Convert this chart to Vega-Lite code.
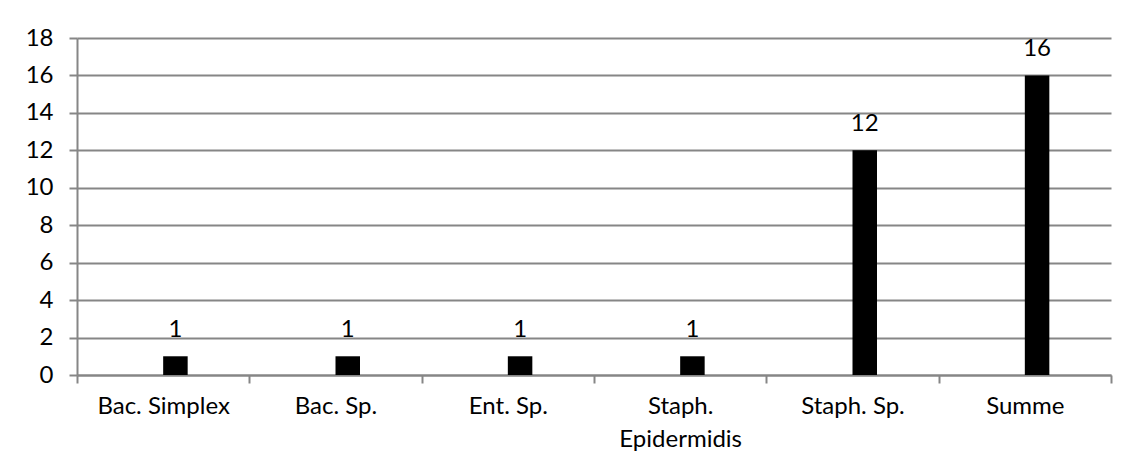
{
  "$schema": "https://vega.github.io/schema/vega-lite/v6.json",
  "width": 1034,
  "height": 337,
  "autosize": "none",
  "padding": {"left": 77, "top": 38, "right": 20, "bottom": 93},
  "background": "white",
  "data": {
    "values": [
      {"keim": "Bac. Simplex", "serie": "Anzahl", "anzahl": 1},
      {"keim": "Bac. Sp.", "serie": "Anzahl", "anzahl": 1},
      {"keim": "Ent. Sp.", "serie": "Anzahl", "anzahl": 1},
      {"keim": "Staph. Epidermidis", "serie": "Anzahl", "anzahl": 1},
      {"keim": "Staph. Sp.", "serie": "Anzahl", "anzahl": 12},
      {"keim": "Summe", "serie": "Anzahl", "anzahl": 16}
    ]
  },
  "encoding": {
    "x": {
      "field": "keim",
      "type": "nominal",
      "sort": null,
      "scale": {"paddingInner": 0, "paddingOuter": 0},
      "axis": {
        "title": null,
        "labelAngle": 0,
        "tickBand": "extent",
        "tickSize": 8,
        "labelPadding": 11,
        "labelLineHeight": 33,
        "labelExpr": "datum.label == 'Staph. Epidermidis' ? ['Staph.', 'Epidermidis'] : datum.label"
      }
    },
    "xOffset": {
      "field": "serie",
      "type": "nominal",
      "scale": {
        "domain": ["leer", "Anzahl"],
        "paddingInner": 0.5027,
        "paddingOuter": 1,
        "align": 0.3743
      }
    },
    "y": {
      "field": "anzahl",
      "type": "quantitative",
      "scale": {"domain": [0, 18], "nice": false},
      "axis": {
        "title": null,
        "values": [0, 2, 4, 6, 8, 10, 12, 14, 16, 18],
        "tickSize": 8,
        "labelPadding": 16,
        "grid": true
      }
    }
  },
  "layer": [
    {"mark": {"type": "bar", "color": "black"}},
    {
      "mark": {"type": "text", "baseline": "alphabetic", "dy": -19, "color": "black"},
      "encoding": {"text": {"field": "anzahl", "type": "quantitative"}}
    }
  ],
  "config": {
    "font": "Lato",
    "view": {"stroke": null},
    "text": {"font": "Lato", "fontSize": 24},
    "axis": {
      "labelFont": "Lato",
      "labelFontSize": 24,
      "labelColor": "black",
      "domainColor": "#868686",
      "domainWidth": 2,
      "tickColor": "#868686",
      "tickWidth": 2,
      "gridColor": "#868686",
      "gridWidth": 2,
      "gridOpacity": 1
    }
  }
}
